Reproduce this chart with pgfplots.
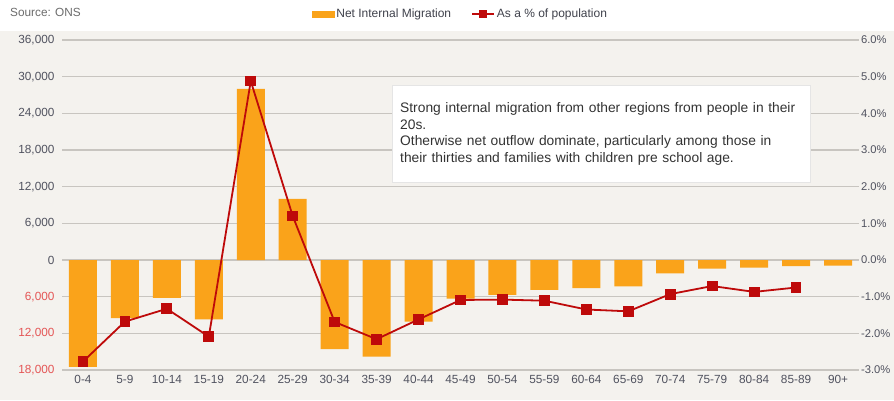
\documentclass[border=0pt]{standalone}
\usepackage{pgfplots}
\pgfplotsset{compat=1.18}
\usepackage{fontspec}
\setmainfont{Liberation Sans}
\definecolor{bgbeige}{RGB}{244,242,238}
\definecolor{barorange}{RGB}{250,163,26}
\definecolor{linered}{RGB}{190,10,10}
\definecolor{gridgray}{RGB}{200,197,192}
\definecolor{tickgray}{RGB}{80,82,95}
\definecolor{negred}{RGB}{228,85,85}
\pgfplotstableread{
x val
0 -17500
1 -9500
2 -6200
3 -9700
4 28000
5 10000
6 -14600
7 -15800
8 -10100
9 -6300
10 -5700
11 -4900
12 -4600
13 -4300
14 -2200
15 -1400
16 -1250
17 -1000
18 -900
}\migtable
\pgfplotstableread{
x pct
0 -2.77
1 -1.68
2 -1.33
3 -2.09
4 4.88
5 1.20
6 -1.69
7 -2.16
8 -1.62
9 -1.09
10 -1.08
11 -1.11
12 -1.35
13 -1.40
14 -0.93
15 -0.71
16 -0.87
17 -0.75
}\pcttable
\begin{document}
\begin{tikzpicture}[x=1pt,y=1pt]
\useasboundingbox (0,0) rectangle (894,400);
\fill[white] (0,0) rectangle (894,400);
\fill[bgbeige] (0,0) rectangle (894,369);
\node[anchor=west, font=\fontsize{11.8}{13}\selectfont, text=gray!85!black, inner sep=0pt] at (10,388) {Source: ONS};
\begin{axis}[
  at={(62pt,30pt)}, anchor=south west,
  scale only axis, width=797pt, height=330pt,
  xmin=-0.5, xmax=18.5,
  ymin=-18000, ymax=36000,
  scaled y ticks=false,
  axis line style={draw=none},
  major tick length=0pt,
  ymajorgrids, grid style={gridgray, line width=1.3pt},
  xtick={0,...,18},
  xticklabels={0-4,5-9,10-14,15-19,20-24,25-29,30-34,35-39,40-44,45-49,50-54,55-59,60-64,65-69,70-74,75-79,80-84,85-89,90+},
  ytick={-18000,-12000,-6000,0,6000,12000,18000,24000,30000,36000},
  yticklabels={{\color{negred}18,000},{\color{negred}12,000},{\color{negred}6,000},0,{6,000},{12,000},{18,000},{24,000},{30,000},{36,000}},
  ticklabel style={font=\fontsize{11.8}{13}\selectfont, text=tickgray},
  yticklabel style={xshift=-4pt},
  xticklabel style={yshift=-2pt},
  clip=false,
]
\addplot[ybar, bar width=28pt, bar shift=0pt, fill=barorange, draw=none] table[x=x, y=val] {\migtable};
\end{axis}
\begin{axis}[
  at={(62pt,30pt)}, anchor=south west,
  scale only axis, width=797pt, height=330pt,
  xmin=-0.5, xmax=18.5,
  ymin=-3, ymax=6,
  axis line style={draw=none},
  major tick length=0pt,
  xtick=\empty,
  yticklabel pos=right,
  ytick={-3,-2,-1,0,1,2,3,4,5,6},
  yticklabels={-3.0\%,-2.0\%,-1.0\%,0.0\%,1.0\%,2.0\%,3.0\%,4.0\%,5.0\%,6.0\%},
  ticklabel style={font=\fontsize{11.8}{13}\selectfont, text=tickgray},
  yticklabel style={font=\fontsize{11.2}{13}\selectfont, xshift=-1.5pt},
  clip=false,
  legend columns=2,
  legend style={at={(0.5,1.079)}, anchor=center, draw=none, fill=none,
    font=\fontsize{12}{13}\selectfont, text=tickgray!80!black,
    /tikz/every even column/.append style={column sep=18pt}},
]
\addlegendimage{legend image code/.code={\fill[barorange] (0pt,-3pt) rectangle (22pt,3pt);}}
\addlegendentry{Net Internal Migration}
\addlegendimage{legend image code/.code={\draw[linered, line width=1.8pt] (0pt,0pt) -- (22pt,0pt); \fill[linered] (7pt,-3.5pt) rectangle (14pt,3.5pt);}}
\addlegendentry{As a \% of population}
\addplot[linered, line width=1.8pt, mark=square*, mark size=4.5pt, mark options={fill=linered, draw=linered}, forget plot] table[x=x, y=pct] {\pcttable};
\end{axis}
\node[anchor=north west, fill=white, draw=gray!20, inner xsep=8pt, inner ysep=4pt,
  text width=402pt, minimum height=97pt, align=left, text=black!80,
  font=\fontsize{13.8}{16.5}\selectfont] at (392,315)
  {Strong internal migration from other regions from people in their\\20s.\\Otherwise net outflow dominate, particularly among those in\\their thirties and families with children pre school age.};
\end{tikzpicture}
\end{document}
